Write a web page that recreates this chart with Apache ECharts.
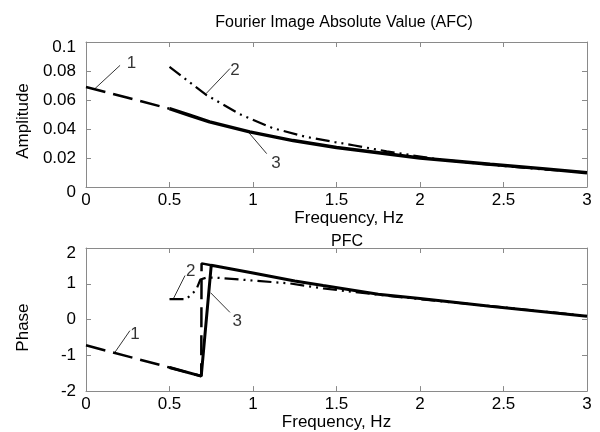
<!DOCTYPE html>
<html><head><meta charset="utf-8">
<script src="https://cdn.jsdelivr.net/npm/echarts@6/dist/echarts.min.js"></script>
<style>html,body{margin:0;padding:0;background:#fff}#c{width:600px;height:432px}</style>
</head><body><div id="c"></div>
<script>
// ---- data ----
var xTicks = [0, 0.5, 1, 1.5, 2, 2.5, 3];
var ampTicks = [0, 0.02, 0.04, 0.06, 0.08, 0.1];
var phaseTicks = [-2, -1, 0, 1, 2];
var amp1 = [[0,0.069],[0.25,0.0615],[0.5,0.054]];
var amp2 = [[0.5,0.0828],[0.6,0.074],[0.72,0.0635],[0.92,0.0503],[1.12,0.0405],[1.32,0.0345],[1.49,0.031],[1.6,0.0288],[1.8,0.0246],[2.08,0.0196],[2.26,0.0172],[2.5,0.0145],[2.75,0.012],[3,0.0100]];
var amp3 = [[0.5,0.054],[0.62,0.0495],[0.74,0.0449],[0.98,0.038],[1.24,0.0320],[1.5,0.0272],[1.62,0.0255],[2.0,0.0200],[2.42,0.0157],[2.75,0.0125],[3,0.0099]];
var ph1 = [[0,-0.72],[0.25,-1.03],[0.5,-1.34],[0.69,-1.58],[0.692,1.57],[0.75,1.52]];
var ph2 = [[0.5,0.57],[0.6,0.57],[0.66,0.83],[0.685,1.12],[0.72,1.17],[0.78,1.17],[1.0,1.09],[1.22,1.01],[1.42,0.87],[1.7,0.72],[2.0,0.57],[2.5,0.34],[3,0.10]];
var ph3 = [[0.5,-1.34],[0.69,-1.58],[0.75,1.52],[1.0,1.30],[1.25,1.08],[1.42,0.95],[1.75,0.71],[2.0,0.59],[2.42,0.37],[3,0.09]];
// annotation leaders: [from, to], and label text positions
var ampLeaders = [[[0.054,0.0679],[0.204,0.0839]],[[0.719,0.0644],[0.862,0.0817]],[[0.972,0.0379],[1.082,0.023]]];
var ampLabels = [[0.273,0.0851,'1'],[0.892,0.0805,'2'],[1.138,0.0161,'3']];
var phLeaders = [[[0.174,-0.91],[0.263,-0.31]],[[0.523,0.58],[0.593,1.23]],[[0.746,0.75],[0.862,0.20]]];
var phLabels = [[0.293,-0.40,'1'],[0.627,1.35,'2'],[0.906,-0.06,'3']];
var titles = ['Fourier Image Absolute Value (AFC)', 'PFC'];
var xName = 'Frequency, Hz';
var yNames = ['Amplitude', 'Phase'];

var FONT = 'Liberation Sans, Arial, sans-serif';
var AX = '#8a8a8a';
function mkX(grid, pos, show, gap, pad) {
  return {type:'value', gridIndex:grid, position:pos, min:0, max:3, interval:0.5,
    name: show ? xName : '', nameLocation:'middle', nameGap: gap || 20,
    nameTextStyle:{fontFamily:FONT, fontSize:17, color:'#000', padding: pad || 0},
    axisLine:{show:true, onZero:false, lineStyle:{color:AX, width:1}},
    axisTick:{show:true, inside:true, length:5, lineStyle:{color:AX}},
    axisLabel:{show:show, fontFamily:FONT, fontSize:17, color:'#000', margin:5,
      formatter:function(v){return String(v);}},
    splitLine:{show:false}};
}
function mkY(grid, pos, show, min, max, interval, name, shiftVals, namePad) {
  return {type:'value', gridIndex:grid, position:pos, min:min, max:max, interval:interval,
    name: show ? name : '', nameLocation:'middle', nameGap:54, nameRotate:90,
    nameTextStyle:{fontFamily:FONT, fontSize:17, color:'#000', padding: namePad || 0},
    axisLine:{show:true, onZero:false, lineStyle:{color:AX, width:1}},
    axisTick:{show:true, inside:true, length:5, lineStyle:{color:AX}},
    axisLabel:{show:show, fontFamily:FONT, fontSize:17, color:'#000', margin:10,
      formatter:function(v){var r=Math.round(v*1000)/1000; var s=String(r); return shiftVals.indexOf(r)>=0 ? '{d|'+s+'}' : s;},
      rich:{d:{fontFamily:FONT, fontSize:17, color:'#000', padding:[10,0,0,0]}}},
    splitLine:{show:false}};
}
var series = [];
function addLine(data, xi, yi, type, width) {
  series.push({type:'line', xAxisIndex:xi, yAxisIndex:yi, data:data, showSymbol:false, symbol:'none',
    animation:false, lineStyle:{color:'#000', width:width, type:type, cap:'butt'}});
}
var dash1 = [20, 8];
var dash2 = [14, 5, 2, 5, 2, 5];
addLine(amp1, 0, 0, dash1, 2.5);
addLine(amp2, 0, 0, dash2, 2.2);
addLine(amp3, 0, 0, 'solid', 3.5);
addLine(ph1, 2, 2, dash1, 2.5);
addLine(ph2, 2, 2, dash2, 2.2);
addLine(ph3, 2, 2, 'solid', 3);
ampLeaders.forEach(function(l){ addLine(l, 0, 0, 'solid', 0.8); });
phLeaders.forEach(function(l){ addLine(l, 2, 2, 'solid', 0.8); });
function addLabels(arr, xi, yi) {
  series.push({type:'scatter', xAxisIndex:xi, yAxisIndex:yi, symbolSize:0, animation:false,
    data: arr.map(function(a){return {value:[a[0],a[1]], name:a[2]};}),
    label:{show:true, position:'inside', formatter:'{b}', fontFamily:FONT, fontSize:17, color:'#000'}});
}
addLabels(ampLabels, 0, 0);
addLabels(phLabels, 2, 2);

var chart = echarts.init(document.getElementById('c'), null, {renderer:'canvas'});
chart.setOption({
  backgroundColor:'#fff',
  animation:false,
  title:[
    {text:titles[0], left:339, top:10, textAlign:'center', textStyle:{fontFamily:FONT, fontSize:16, fontWeight:'normal', color:'#000'}},
    {text:titles[1], left:342, top:229, textAlign:'center', textStyle:{fontFamily:FONT, fontSize:16, fontWeight:'normal', color:'#000'}}
  ],
  grid:[
    {left:86, top:42, width:501, height:145, containLabel:false},
    {left:86, top:248, width:501, height:144, containLabel:false}
  ],
  xAxis:[mkX(0,'bottom',true,17,[0,0,0,25]), mkX(0,'top',false), mkX(1,'bottom',true,21), mkX(1,'top',false)],
  yAxis:[mkY(0,'left',true,0,0.1,0.02,yNames[0],[0,0.1],[0,13,0,0]), mkY(0,'right',false,0,0.1,0.02,'',[]),
         mkY(1,'left',true,-2,2,1,yNames[1],[2],[0,16,0,0]), mkY(1,'right',false,-2,2,1,'',[])],
  series:series
});
</script></body></html>
